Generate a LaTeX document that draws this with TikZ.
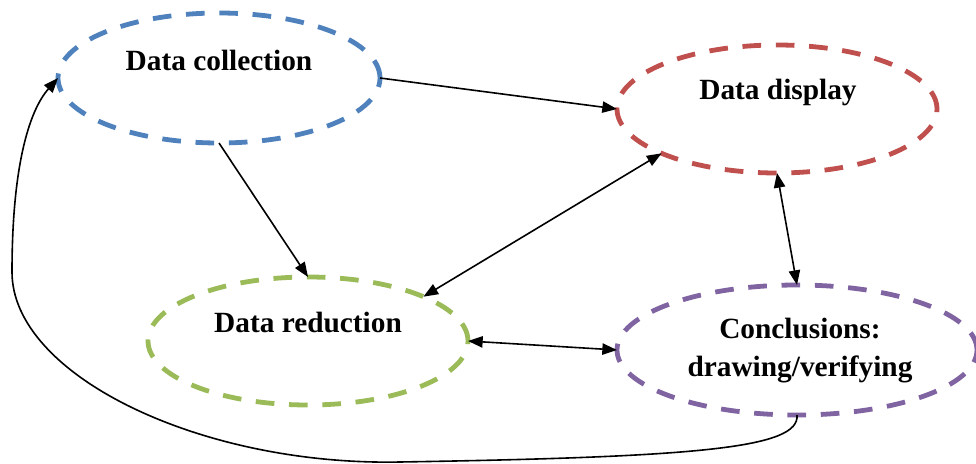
\documentclass[tikz,border=0pt]{standalone}
\usepackage{fontspec}
\setmainfont{Liberation Serif}
\usetikzlibrary{shapes.geometric,arrows.meta}
\definecolor{ovblue}{HTML}{4F81BD}
\definecolor{ovred}{HTML}{C0504D}
\definecolor{ovgreen}{HTML}{9BBB59}
\definecolor{ovpurple}{HTML}{8064A2}
\tikzset{
  stage/.style={ellipse, draw=#1, line width=3.6pt, dash pattern=on 14pt off 11pt,
    inner sep=0pt, outer sep=0pt},
  caption/.style={font=\fontsize{22}{28.5}\selectfont\bfseries, align=center, inner sep=0pt},
  flow/.style={line width=1.2pt, -{Triangle[length=11pt,width=8.5pt]}},
  twoway/.style={line width=1.2pt, {Triangle[length=11pt,width=8.5pt]}-{Triangle[length=11pt,width=8.5pt]}}
}
\begin{document}
\begin{tikzpicture}[x=0.75pt,y=-0.75pt]
\useasboundingbox (0,0) rectangle (976,464);

% stage outlines
\node[stage=ovblue,   minimum width=241.5pt, minimum height=97.5pt] (coll) at (219,78) {};
\node[stage=ovred,    minimum width=240pt,   minimum height=96pt]   (disp) at (777,109) {};
\node[stage=ovgreen,  minimum width=240pt,   minimum height=96pt]   (redu) at (308,341) {};
\node[stage=ovpurple, minimum width=270pt,   minimum height=97.5pt] (conc) at (797,350) {};

% stage captions
\node[caption] (collt) at (219,60)  {Data collection};
\node[caption] (dispt) at (778,92)  {Data display};
\node[caption] (redut) at (308,323) {Data reduction};
\node[caption] (conct) at (800,351) {Conclusions:\\drawing/verifying};

% connectors
\draw[flow]   (coll.0)     -- (disp.180);
\draw[flow]   (coll.270)   -- (redu.90);
\draw[twoway] (disp.201.5) -- (redu.21.5);
\draw[twoway] (disp.270)   -- (conc.90);
\draw[twoway] (redu.0)     -- (conc.180);

% feedback loop back to data collection
\coordinate (low)  at (400,462);
\coordinate (side) at (12,272);
\draw[flow] (conc.270) .. controls (800,448) and (700,457) .. (low)
            .. controls (200,466) and (12,375) .. (side)
            .. controls (12,170) and (28,112) .. (coll.180);
\end{tikzpicture}
\end{document}
